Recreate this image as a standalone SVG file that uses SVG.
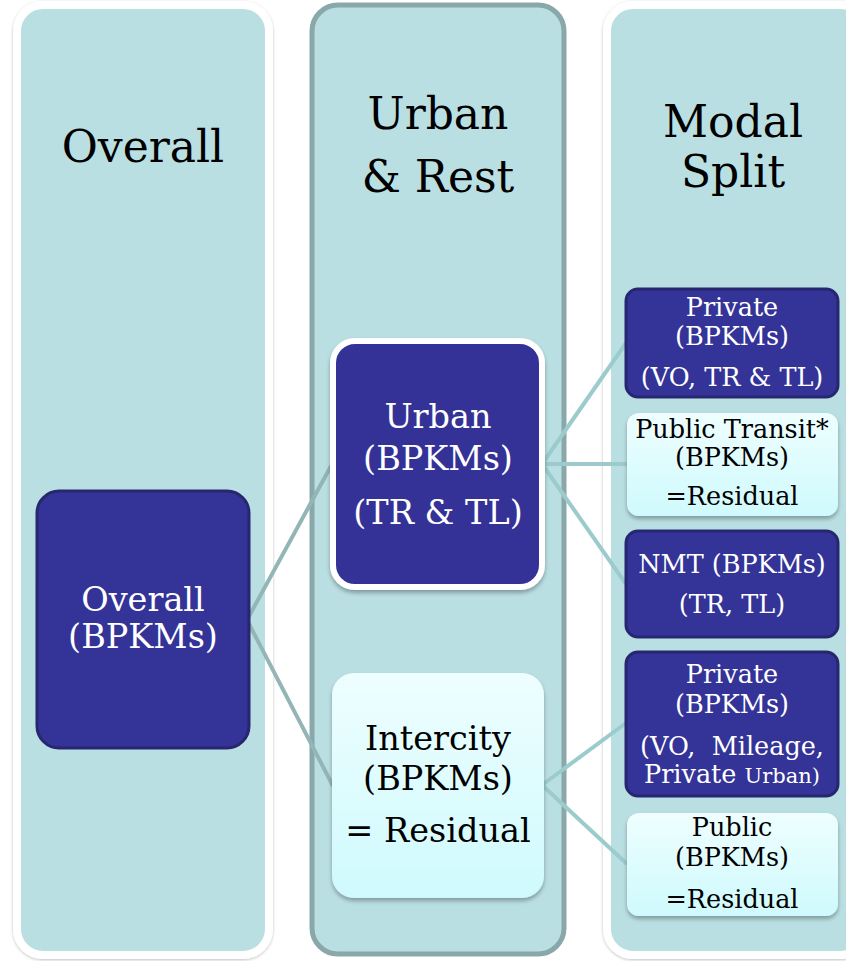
<svg xmlns="http://www.w3.org/2000/svg" width="846" height="961" viewBox="0 0 846 961">
<defs>
<linearGradient id="light" x1="0" y1="0" x2="0" y2="1">
<stop offset="0" stop-color="#EEFEFF"/>
<stop offset="1" stop-color="#CFFAFD"/>
</linearGradient>
<filter id="sh" x="-10%" y="-10%" width="120%" height="125%">
<feDropShadow dx="0" dy="3" stdDeviation="2" flood-color="#000" flood-opacity="0.3"/>
</filter>
<filter id="sh2" x="-10%" y="-5%" width="120%" height="110%">
<feDropShadow dx="0" dy="1" stdDeviation="1.5" flood-color="#000" flood-opacity="0.25"/>
</filter>
</defs>
<style>
.col{fill:#BADFE2;stroke:#FFFFFF;stroke-width:8}
.col2{fill:#BADFE2;stroke:#8AA8AA;stroke-width:5}
.dark{fill:#343397;stroke:#27276F;stroke-width:3}
.light{fill:url(#light);stroke:none}
.conn{stroke:#9CCBCD;stroke-width:4;fill:none}
.conn1{stroke:#94B5B6;stroke-width:4;fill:none}
text{font-family:"DejaVu Serif","Liberation Serif",serif;text-anchor:middle}
.hd{font-size:44px;fill:#000}
.w{fill:#FFFFFF}
.b{fill:#000}
.m{font-size:33.5px}
.s{font-size:25.5px}
</style>
<rect width="846" height="961" fill="#FFFFFF"/>
<g id="col-overall">
<rect class="col" x="17" y="5" width="252" height="950" rx="26" filter="url(#sh2)"/>
<text class="hd" x="143" y="162">Overall</text>
</g>
<g id="col-urban">
<rect class="col2" x="312" y="5" width="252" height="949" rx="26"/>
<text class="hd" x="438" y="129">Urban</text>
<text class="hd" x="438" y="192">&amp; Rest</text>
</g>
<g id="col-modal">
<rect class="col" x="607" y="5" width="260" height="950" rx="26" filter="url(#sh2)"/>
<text class="hd" x="733" y="137">Modal</text>
<text class="hd" x="733" y="187">Split</text>
</g>
<g id="connectors">
<path class="conn1" d="M247 620 L331 466 M247 620 L333 786"/>
<path class="conn" d="M542 464 L626 343 M542 464 L627 464 M542 464 L626 584"/>
<path class="conn" d="M542 785 L626 723 M542 785 L627 864"/>
</g>
<g id="node-overall">
<rect class="dark" x="37" y="491" width="212" height="257" rx="22"/>
<text class="w m" x="143" y="611">Overall</text>
<text class="w m" x="143" y="648">(BPKMs)</text>
</g>
<g id="node-urban">
<rect x="333" y="341" width="209" height="246" rx="22" fill="#343397" stroke="#FFFFFF" stroke-width="6" filter="url(#sh)"/>
<text class="w m" x="438" y="428">Urban</text>
<text class="w m" x="438" y="470">(BPKMs)</text>
<text class="w m" x="438" y="524">(TR &amp; TL)</text>
</g>
<g id="node-intercity">
<rect class="light" x="332" y="673" width="212" height="225" rx="22" filter="url(#sh)"/>
<text class="b m" x="438" y="750">Intercity</text>
<text class="b m" x="438" y="790">(BPKMs)</text>
<text class="b m" x="438" y="842">= Residual</text>
</g>
<g id="node-private-urban">
<rect class="dark" x="626" y="289" width="212" height="108" rx="12"/>
<text class="w s" x="732" y="316">Private</text>
<text class="w s" x="732" y="345">(BPKMs)</text>
<text class="w s" x="732" y="386">(VO, TR &amp; TL)</text>
</g>
<g id="node-public-transit">
<rect class="light" x="627" y="413" width="211" height="103" rx="12" filter="url(#sh)"/>
<text class="b s" x="732" y="438">Public Transit*</text>
<text class="b s" x="732" y="466">(BPKMs)</text>
<text class="b s" x="732" y="505">=Residual</text>
</g>
<g id="node-nmt">
<rect class="dark" x="626" y="531" width="212" height="106" rx="12"/>
<text class="w s" x="732" y="573">NMT (BPKMs)</text>
<text class="w s" x="732" y="613">(TR, TL)</text>
</g>
<g id="node-private-intercity">
<rect class="dark" x="626" y="652" width="212" height="144" rx="12"/>
<text class="w s" x="732" y="683">Private</text>
<text class="w s" x="732" y="713">(BPKMs)</text>
<text class="w s" x="732" y="755" style="white-space:pre">(VO,  Mileage,</text>
<text class="w s" x="732" y="783">Private <tspan font-size="21px">Urban)</tspan></text>
</g>
<g id="node-public">
<rect class="light" x="627" y="813" width="211" height="103" rx="12" filter="url(#sh)"/>
<text class="b s" x="732" y="836">Public</text>
<text class="b s" x="732" y="866">(BPKMs)</text>
<text class="b s" x="732" y="908">=Residual</text>
</g>
</svg>
